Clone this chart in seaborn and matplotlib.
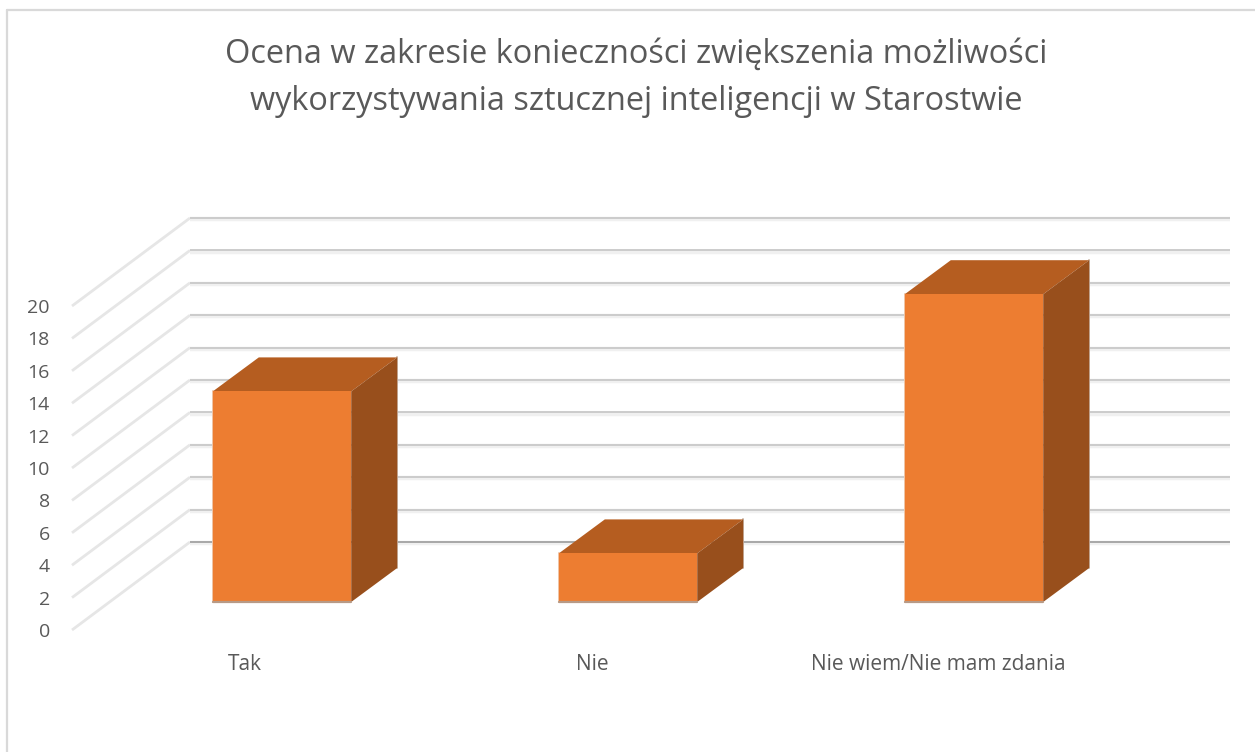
import matplotlib
matplotlib.use("Agg")
import matplotlib.pyplot as plt
from matplotlib.lines import Line2D
import pandas as pd
import seaborn as sns

title = "Ocena w zakresie konieczności zwiększenia możliwości\nwykorzystywania sztucznej inteligencji w Starostwie"
categories = ["Tak", "Nie", "Nie wiem/Nie mam zdania"]
values = [13, 3, 19]
y_ticks = list(range(0, 21, 2))

sns.set_theme(style="white")
plt.rcParams["font.family"] = ["Open Sans", "DejaVu Sans"]

W, H = 1255, 752
fig = plt.figure(figsize=(W / 100, H / 100), dpi=100, facecolor="white")


def axes_px(x0, x1, y_bottom, y_top):
    return fig.add_axes([x0 / W, 1 - y_bottom / H, (x1 - x0) / W, (y_bottom - y_top) / H])


# Frame axes: front plane of the pseudo-3D box
frame = axes_px(72, 1112, 630, 306)
frame.set_xlim(-0.5, 2.5)
frame.set_ylim(0, 20)
frame.set_facecolor("none")
for s in frame.spines.values():
    s.set_visible(False)
frame.set_xticks(range(len(categories)), categories)
frame.set_yticks(y_ticks)
frame.tick_params(axis="y", length=0, pad=16, labelsize=14, labelcolor="#595959")
frame.tick_params(axis="x", length=0, pad=17, labelsize=15, labelcolor="#595959")

wall_dx = 118 / 1040 * 3
wall_dy = 88 / 16.2
for v in y_ticks:
    frame.plot([-0.5, -0.5 + wall_dx], [v, v + wall_dy], color="#e6e6e6", lw=2.0, clip_on=False,
               solid_capstyle="butt", zorder=1)
    dark = "#a8a8a8" if v == 0 else "#cccccc"
    frame.plot([-0.5 + wall_dx, 2.5 + wall_dx], [v + wall_dy - 0.07, v + wall_dy - 0.07], color="#f0f0f0",
               lw=3.2, clip_on=False, solid_capstyle="butt", zorder=1)
    frame.plot([-0.5 + wall_dx, 2.5 + wall_dx], [v + wall_dy, v + wall_dy], color=dark, lw=1.4,
               clip_on=False, solid_capstyle="butt", zorder=2)

# Bar axes: front faces of the bars
ax = axes_px(109, 1147, 602, 278)
ax.set_facecolor("none")
df = pd.DataFrame({"kategoria": categories, "liczba": values})
sns.barplot(data=df, x="kategoria", y="liczba", color="#ED7D31", saturation=1, width=0.4, ax=ax,
            linewidth=0, zorder=5)
ax.set_xlim(-0.5, 2.5)
ax.set_ylim(0, 20)
ax.axis("off")

bar_dx = 46 / 346
bar_dy = 34 / 16.2
for p in list(ax.patches):
    x0, x1 = p.get_x(), p.get_x() + p.get_width()
    h = p.get_height()
    ax.fill([x0, x1, x1 + bar_dx, x0 + bar_dx], [h, h, h + bar_dy, h + bar_dy], color="#B55D20",
            lw=0, clip_on=False, zorder=4)
    ax.fill([x1, x1 + bar_dx, x1 + bar_dx, x1], [0, bar_dy, h + bar_dy, h], color="#984F1C",
            lw=0, clip_on=False, zorder=4)
    # soft shadow edges
    ax.plot([x1 + bar_dx, x1 + bar_dx], [bar_dy, h + bar_dy], color="#c9b5a6", lw=1.4, clip_on=False, zorder=3)
    ax.plot([x0, x1], [0, 0], color="#b79a86", lw=1.6, clip_on=False, zorder=6)
    ax.plot([x0, x0], [0, h], color="#efc3a3", lw=1.4, clip_on=False, zorder=3)

# Chart border (left and top only are visible in the crop)
fig.add_artist(Line2D([7 / W, 7 / W], [0, 1 - 10 / H], color="#d9d9d9", lw=1.6))
fig.add_artist(Line2D([7 / W, 1], [1 - 10 / H, 1 - 10 / H], color="#d9d9d9", lw=1.6))

fig.text(636 / W, 1 - 78 / H, title, ha="center", va="center", fontsize=23.4, color="#595959",
         linespacing=1.54)

fig.savefig("out.png", dpi=100, facecolor="white")
